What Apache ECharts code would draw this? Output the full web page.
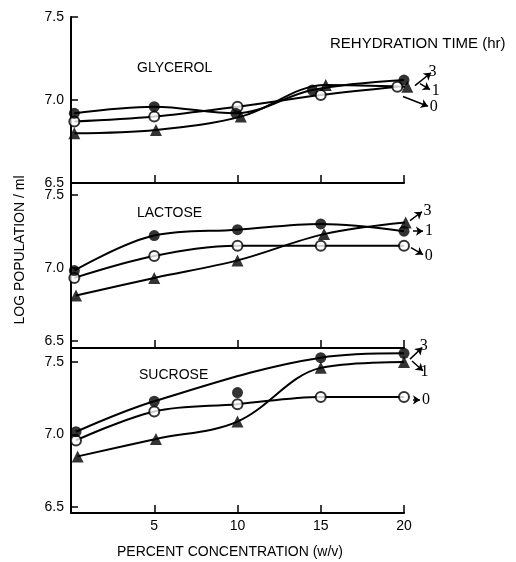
<!DOCTYPE html>
<html><head><meta charset="utf-8">
<script src="https://cdn.jsdelivr.net/npm/echarts@6/dist/echarts.min.js"></script>
<style>html,body{margin:0;padding:0;background:#fff}#c{width:516px;height:562px}</style>
</head><body><div id="c"></div>
<script>
// ---------------- DATA ----------------
const panelNames = ['GLYCEROL', 'LACTOSE', 'SUCROSE'];
const hourLabels = ['0', '1', '3'];
const yTickValues = [6.5, 7.0, 7.5];
const xTickValues = [5, 10, 15, 20];
const xTitle = 'PERCENT CONCENTRATION (w/v)';
const yTitle = 'LOG POPULATION / ml';
const legendTitle = 'REHYDRATION TIME (hr)';

// Glycerol
const glyc0x = [0.2, 5, 10, 15, 19.6];
const glyc0y = [6.87, 6.90, 6.96, 7.03, 7.08];
const glyc1x = [0.2, 5, 9.9, 14.5, 20];
const glyc1y = [6.92, 6.96, 6.92, 7.06, 7.12];
const glyc3x = [0.2, 5.1, 10.2, 15.3, 20.2];
const glyc3y = [6.80, 6.82, 6.90, 7.09, 7.08];
// Lactose
const lact0x = [0.2, 5, 10, 15, 20];
const lact0y = [6.93, 7.08, 7.15, 7.15, 7.15];
const lact1x = [0.2, 5, 10, 15, 20];
const lact1y = [6.98, 7.22, 7.26, 7.30, 7.25];
const lact3x = [0.3, 5, 10, 15.2, 20.1];
const lact3y = [6.81, 6.93, 7.05, 7.23, 7.31];
// Sucrose
const sucr0x = [0.3, 5, 10, 15, 20];
const sucr0y = [6.96, 7.16, 7.21, 7.26, 7.26];
const sucr1x = [0.3, 5, 10, 15, 20];
const sucr1y = [7.02, 7.23, 7.29, 7.53, 7.56];
const sucr1offCurve = [false, false, true, false, false];
const sucr3x = [0.4, 5.1, 10, 15, 20];
const sucr3y = [6.85, 6.97, 7.09, 7.46, 7.50];

// ---------------- LAYOUT ----------------
const LEFT = 71, WIDTH = 333, XMAX = 20, XMAX_WIDE = 24, PAD_TOP = 20;
const panelTop = [17, 183, 349];
const panelHeight = [166, 165, 164];
const panelYMin = [6.5, 6.45, 6.46];
const panelYMax = [7.5, 7.58, 7.59];
// arrow annotations [from, to] in data space, per panel, order 3,1,0
const arrows = [
  [[[20.66, 7.096], [21.62, 7.175]], [[20.96, 7.108], [21.56, 7.072]], [[19.94, 7.03], [21.44, 6.97]]],
  [[[20.36, 7.323], [21.08, 7.383]], [[20.54, 7.25], [21.14, 7.25]], [[20.42, 7.137], [21.14, 7.09]]],
  [[[20.36, 7.52], [21.1, 7.6]], [[20.48, 7.507], [21.14, 7.44]], [[20.54, 7.239], [20.96, 7.239]]]
];
const arrowLabels = ['3', '1', '0'];

const panels = [
  { s: [[glyc0x, glyc0y, null], [glyc1x, glyc1y, null], [glyc3x, glyc3y, null]] },
  { s: [[lact0x, lact0y, null], [lact1x, lact1y, null], [lact3x, lact3y, null]] },
  { s: [[sucr0x, sucr0y, null], [sucr1x, sucr1y, sucr1offCurve], [sucr3x, sucr3y, null]] }
];

const FONT = 'Liberation Sans';
const markerStyle = [
  { symbol: 'circle', symbolSize: 10, itemStyle: { color: '#fff', borderColor: '#000', borderWidth: 2 } },
  { symbol: 'circle', symbolSize: 11, itemStyle: { color: '#000', borderColor: '#000', borderWidth: 0 } },
  { symbol: 'triangle', symbolSize: 12, itemStyle: { color: '#000', borderColor: '#000', borderWidth: 0 } }
];

const grid = [], xAxis = [], yAxis = [], series = [];
panels.forEach((p, i) => {
  const top = panelTop[i], h = panelHeight[i];
  const k = h / (panelYMax[i] - panelYMin[i]);
  grid.push({ left: LEFT, top: top, width: WIDTH, height: h });
  grid.push({ left: LEFT, top: top - PAD_TOP, width: WIDTH * XMAX_WIDE / XMAX, height: h + PAD_TOP });
  xAxis.push({
    gridIndex: 2 * i, type: 'value', min: 0, max: XMAX, interval: 5,
    axisLine: { show: true, onZero: false, lineStyle: { color: '#000', width: 2 } },
    axisTick: { show: true, inside: true, length: 8, customValues: xTickValues, lineStyle: { color: '#000', width: 1.5 } },
    axisLabel: { show: i === 2, customValues: xTickValues, color: '#000', fontSize: 14, fontFamily: FONT, margin: 6 },
    splitLine: { show: false }
  });
  xAxis.push({ gridIndex: 2 * i + 1, type: 'value', min: 0, max: XMAX_WIDE, show: false });
  yAxis.push({
    gridIndex: 2 * i, type: 'value', min: panelYMin[i], max: panelYMax[i],
    axisLine: { show: true, onZero: false, lineStyle: { color: '#000', width: 2 } },
    axisTick: { show: true, inside: true, length: 7, customValues: yTickValues, lineStyle: { color: '#000', width: 1.5 } },
    axisLabel: { show: true, customValues: yTickValues, formatter: v => v.toFixed(1), color: '#000', fontSize: 14, fontFamily: FONT, margin: 7 },
    splitLine: { show: false }
  });
  yAxis.push({ gridIndex: 2 * i + 1, type: 'value', min: panelYMin[i], max: panelYMax[i] + PAD_TOP / k, show: false });

  p.s.forEach((s, j) => {
    const [xs, ys, off] = s;
    const pts = xs.map((x, n) => [x, ys[n]]);
    const curve = pts.filter((_, n) => !(off && off[n]));
    series.push({
      type: 'line', xAxisIndex: 2 * i, yAxisIndex: 2 * i, data: curve, smooth: 0.35,
      showSymbol: false, clip: false, z: 2, silent: true,
      lineStyle: { color: '#000', width: 2 }
    });
    series.push(Object.assign({
      type: 'scatter', xAxisIndex: 2 * i, yAxisIndex: 2 * i, data: pts, clip: false, z: 3, silent: true
    }, markerStyle[j]));
  });

  series.push({
    type: 'line', xAxisIndex: 2 * i + 1, yAxisIndex: 2 * i + 1, data: [], silent: true,
    markLine: {
      silent: true, symbol: ['none', 'arrow'], symbolSize: 7, animation: false,
      lineStyle: { color: '#000', width: 1.5, type: 'solid' },
      label: { show: true, position: 'end', formatter: '{b}', distance: 2, color: '#000', fontSize: 16, fontFamily: 'Liberation Serif' },
      emphasis: { disabled: true },
      data: arrows[i].map((a, n) => [{ coord: a[0], name: arrowLabels[n] }, { coord: a[1] }])
    }
  });
});

const txt = (text, x, y, size, extra) => Object.assign({
  type: 'text', x: x, y: y, silent: true,
  style: { text: text, fill: '#000', font: size + 'px "' + FONT + '"', align: 'left', verticalAlign: 'middle' }
}, extra || {});

const graphic = [
  txt(legendTitle, 330, 44, 15),
  txt(panelNames[0], 137, 68, 14),
  txt(panelNames[1], 137, 213, 14),
  txt(panelNames[2], 139, 375, 14),
  txt(xTitle, 230, 552, 14, { style: { text: xTitle, fill: '#000', font: '14px "' + FONT + '"', align: 'center', verticalAlign: 'middle' } }),
  txt(yTitle, 20, 250, 14, { rotation: Math.PI / 2, style: { text: yTitle, fill: '#000', font: '14px "' + FONT + '"', align: 'center', verticalAlign: 'middle' } })
];

const chart = echarts.init(document.getElementById('c'), null, { renderer: 'canvas' });
chart.setOption({ animation: false, backgroundColor: '#fff', grid, xAxis, yAxis, series, graphic });
</script>
</body></html>
